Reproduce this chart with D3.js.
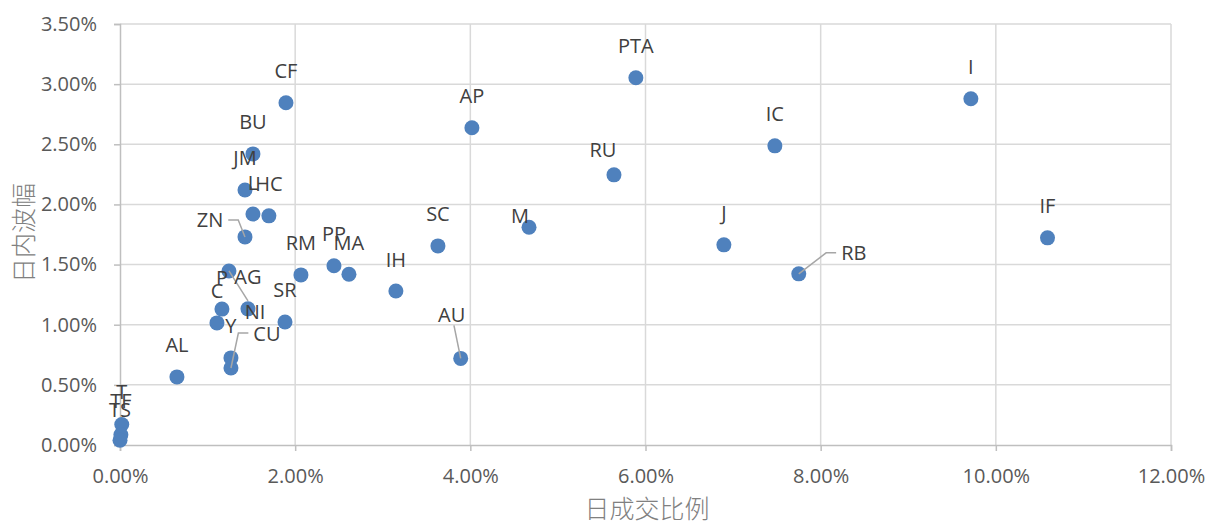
<!DOCTYPE html>
<html>
<head>
  <meta charset="UTF-8">
  <style>
    body { margin: 0; background: #fff; }
    text { font-family: "Open Sans", "Noto Sans", sans-serif; }
  </style>
</head>
<body>
<svg></svg>
<script src="https://d3js.org/d3.v7.min.js"></script>

<script>

// data (values in %)
const names = ["CF","BU","JM","L","HC","ZN","RM","PP","MA","SR","IH","SC","M","AP","AU",
               "PTA","RU","IC","J","RB","I","IF","P","AG","C","NI","Y","CU","AL","T","TF","TS"];
const turnover = [1.895,1.518,1.427,1.518,1.70,1.427,2.066,2.443,2.614,1.884,3.15,3.63,4.67,4.018,3.89,
                  5.89,5.64,7.477,6.895,7.75,9.715,10.59,1.164,1.461,1.107,1.244,1.267,1.267,0.65,0.02,0.01,0.0];
const amplitude = [2.845,2.42,2.12,1.92,1.905,1.73,1.414,1.49,1.42,1.023,1.28,1.655,1.81,2.637,0.72,
                   3.053,2.246,2.487,1.664,1.423,2.878,1.722,1.13,1.132,1.015,1.447,0.724,0.64,0.566,0.17,0.085,0.04];
const xTicks = [0,2,4,6,8,10,12];
const yTicks = [0,0.5,1,1.5,2,2.5,3,3.5];
const xTitle = "日成交比例";
const yTitle = "日内波幅";

let width = 1212, height = 522;

let svg = d3.select("svg")
    .attr("width", width)
    .attr("height", height)

let x = d3.scaleLinear().domain([0, 12]).range([120, 1171]);
let y = d3.scaleLinear().domain([0, 3.5]).range([445, 24]);

// gridlines
svg.append("g").selectAll("line").data(xTicks.slice(1)).enter().append("line")
    .attr("x1", d => x(d)).attr("x2", d => x(d))
    .attr("y1", y(3.5)).attr("y2", y(0))
    .style("stroke", "#d9d9d9").style("stroke-width", "1.5px");
svg.append("g").selectAll("line").data(yTicks.slice(1)).enter().append("line")
    .attr("x1", x(0)).attr("x2", x(12))
    .attr("y1", d => y(d)).attr("y2", d => y(d))
    .style("stroke", "#d9d9d9").style("stroke-width", "1.5px");

// axes
let xAxis = svg.append("g")
    .attr("transform", "translate(0," + y(0) + ")")
    .call(d3.axisBottom(x).tickValues(xTicks).tickSize(6).tickPadding(18).tickFormat(d => d.toFixed(2) + "%"));
let yAxis = svg.append("g")
    .attr("transform", "translate(" + x(0) + ",0)")
    .call(d3.axisLeft(y).tickValues(yTicks).tickSize(6).tickPadding(17).tickFormat(d => d.toFixed(2) + "%"));

[xAxis, yAxis].forEach(a => {
    a.select(".domain").style("stroke", "#bfbfbf").style("stroke-width", "1.5px");
    a.selectAll(".tick line").style("stroke", "#bfbfbf").style("stroke-width", "1.5px");
    a.selectAll(".tick text").style("font-size", "20px").style("fill", "#595959")
        .style("font-family", "'Open Sans', sans-serif");
});

// axis titles
svg.append("text")
    .attr("x", 647).attr("y", 507)
    .attr("text-anchor", "middle").attr("dominant-baseline", "central")
    .style("font-family", "'Noto Sans CJK SC'").style("font-size", "25px").style("font-weight", "300").style("fill", "#808080")
    .text(xTitle);
svg.append("text")
    .attr("transform", "translate(22,233) rotate(-90)")
    .attr("text-anchor", "middle").attr("dominant-baseline", "central")
    .style("font-family", "'Noto Sans CJK SC'").style("font-size", "25px").style("font-weight", "300").style("fill", "#808080")
    .text(yTitle);

// points
let pts = names.map((n, i) => ({name: n, x: turnover[i], y: amplitude[i]}));

svg.append("g").selectAll("circle").data(pts).enter().append("circle")
    .attr("cx", d => x(d.x)).attr("cy", d => y(d.y))
    .attr("r", 7.5)
    .style("fill", "#4f81bd");

// label placement (pixel offsets from point), leader line type
const labelPos = {
    ZN: [-35, -17, "elbow"],
    NI: [26, 41, "straight"],
    AU: [-9, -44, "straight"],
    RB: [55, -21, "elbow"],
    CU: [36, -35, "elbow"],
    M:  [-9, -12],
    RU: [-11, -25],
    T:  [0, -33], TF: [0, -34], TS: [0, -31]
};

let labels = svg.append("g");
pts.forEach(d => {
    let px = x(d.x), py = y(d.y);
    let off = labelPos[d.name] || [0, -32];
    let lx = px + off[0], ly = py + off[1];
    let t = labels.append("text")
        .attr("x", lx).attr("y", ly)
        .attr("text-anchor", "middle").attr("dominant-baseline", "central")
        .style("font-size", "20px").style("fill", "#404040")
        .text(d.name);
    if (off[2]) {
        let w = t.node().getComputedTextLength() / 2 + 3, h = 11;
        let path;
        if (off[2] == "straight") {
            let vx = px - lx, vy = py - ly;
            let s = Math.min(w / Math.abs(vx || 1e-6), h / Math.abs(vy || 1e-6));
            path = "M" + (lx + s * vx) + "," + (ly + s * vy) + "L" + px + "," + py;
        } else {
            let dir = px > lx ? 1 : -1;
            let sx = lx + dir * (w + 2);
            path = "M" + sx + "," + ly + "L" + (sx + dir * 10) + "," + ly + "L" + px + "," + py;
        }
        labels.insert("path", "text").attr("d", path)
            .style("fill", "none").style("stroke", "#a6a6a6").style("stroke-width", "1.5px");
    }
});

</script>

</body>
</html>
